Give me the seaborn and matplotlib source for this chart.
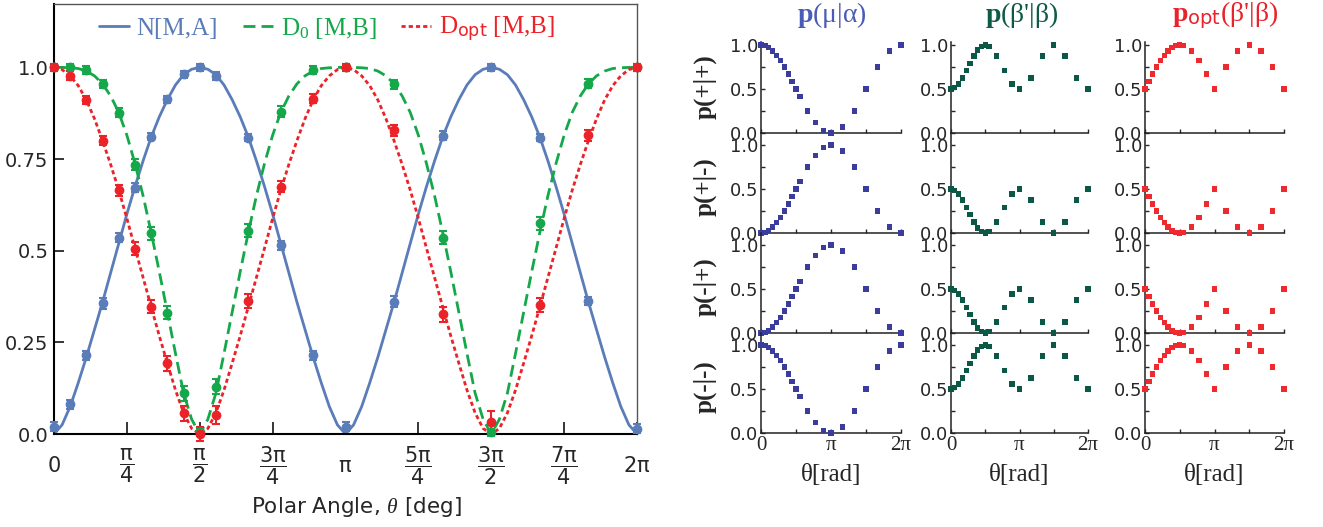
import numpy as np
import matplotlib
matplotlib.use('Agg')
import matplotlib.pyplot as plt
import seaborn as sns

# sampled polar angles (degrees) of the measured points
theta_deg = [0, 10, 20, 30, 40, 50, 60, 70, 80, 90, 100, 120, 140, 160, 180, 210, 240, 270, 300, 330, 360]

# left panel: measured points
pts_N = [0.02, 0.081, 0.215, 0.356, 0.535, 0.672, 0.811, 0.913, 0.981, 1.0, 0.977, 0.808, 0.515, 0.215, 0.02,
         0.361, 0.814, 1.0, 0.808, 0.363, 0.015]
pts_D0 = [1.0, 1.0, 0.993, 0.955, 0.877, 0.735, 0.547, 0.331, 0.111, 0.005, 0.129, 0.555, 0.879, 0.993, 1.0,
          0.954, 0.535, 0.005, 0.575, 0.956, 1.0]
pts_Dopt = [1.0, 0.977, 0.911, 0.80, 0.665, 0.506, 0.347, 0.193, 0.056, 0.0, 0.052, 0.363, 0.675, 0.915, 1.0,
            0.829, 0.326, 0.034, 0.352, 0.815, 1.0]
err_N = [0.012, 0.012, 0.012, 0.015, 0.012, 0.012, 0.01, 0.01, 0.01, 0.01, 0.01, 0.01, 0.012, 0.012, 0.012,
         0.015, 0.012, 0.01, 0.01, 0.012, 0.012]
err_D0 = [0.01, 0.01, 0.01, 0.012, 0.012, 0.015, 0.018, 0.018, 0.02, 0.01, 0.02, 0.018, 0.015, 0.01, 0.01,
          0.012, 0.018, 0.01, 0.018, 0.012, 0.01]
err_Dopt = [0.01, 0.012, 0.012, 0.012, 0.015, 0.018, 0.018, 0.02, 0.02, 0.02, 0.025, 0.018, 0.015, 0.012, 0.01,
            0.015, 0.02, 0.03, 0.02, 0.015, 0.01]

# left panel: model curves, one value every 5 degrees from 0 to 360
curve_deg = list(range(0, 361, 5))
curve_N = [0.0, 0.025, 0.075, 0.14, 0.21, 0.285, 0.36, 0.44, 0.52, 0.6, 0.675, 0.745, 0.81, 0.865, 0.912, 0.952,
           0.98, 0.995, 1.0, 0.995, 0.98, 0.952, 0.912, 0.865, 0.81, 0.745, 0.675, 0.6, 0.52, 0.44, 0.36, 0.285,
           0.21, 0.14, 0.075, 0.025, 0.0,
           0.025, 0.075, 0.14, 0.21, 0.285, 0.36, 0.44, 0.52, 0.6, 0.675, 0.745, 0.81, 0.865, 0.912, 0.952,
           0.98, 0.995, 1.0, 0.995, 0.98, 0.952, 0.912, 0.865, 0.81, 0.745, 0.675, 0.6, 0.52, 0.44, 0.36, 0.285,
           0.21, 0.14, 0.075, 0.025, 0.0]
curve_D0 = [1.0, 1.0, 0.999, 0.997, 0.99, 0.977, 0.955, 0.922, 0.877, 0.815, 0.738, 0.65, 0.55, 0.443, 0.332,
            0.22, 0.112, 0.04, 0.0, 0.04, 0.112, 0.22, 0.332, 0.443, 0.55, 0.65, 0.738, 0.815, 0.877, 0.922,
            0.955, 0.977, 0.99, 0.997, 0.999, 1.0, 1.0,
            1.0, 0.999, 0.997, 0.99, 0.977, 0.955, 0.922, 0.877, 0.815, 0.738, 0.65, 0.55, 0.443, 0.332,
            0.22, 0.112, 0.04, 0.0, 0.04, 0.112, 0.22, 0.332, 0.443, 0.55, 0.65, 0.738, 0.815, 0.877, 0.922,
            0.955, 0.977, 0.99, 0.997, 0.999, 1.0, 1.0]
curve_Dopt = [1.0, 0.994, 0.977, 0.95, 0.911, 0.86, 0.80, 0.735, 0.665, 0.588, 0.507, 0.427, 0.347, 0.268,
              0.193, 0.12, 0.058, 0.015, 0.0, 0.015, 0.058, 0.12, 0.193, 0.268, 0.347, 0.427, 0.507, 0.588,
              0.665, 0.735, 0.80, 0.86, 0.911, 0.95, 0.977, 0.994, 1.0,
              0.994, 0.977, 0.95, 0.911, 0.86, 0.80, 0.735, 0.665, 0.588, 0.507, 0.427, 0.347, 0.268,
              0.193, 0.12, 0.058, 0.015, 0.0, 0.015, 0.058, 0.12, 0.193, 0.268, 0.347, 0.427, 0.507, 0.588,
              0.665, 0.735, 0.80, 0.86, 0.911, 0.95, 0.977, 0.994, 1.0]

# right panels: probabilities per row (+|+, +|-, -|+, -|-)
mu_pp = [1.0, 0.992, 0.970, 0.933, 0.883, 0.821, 0.750, 0.671, 0.587, 0.500, 0.413, 0.250, 0.117, 0.030, 0.0,
         0.067, 0.250, 0.500, 0.750, 0.933, 1.0]
mu_pm = [0.0, 0.008, 0.030, 0.067, 0.117, 0.179, 0.250, 0.329, 0.413, 0.500, 0.587, 0.750, 0.883, 0.970, 1.0,
         0.933, 0.750, 0.500, 0.250, 0.067, 0.0]
mu_mp = [0.0, 0.008, 0.030, 0.067, 0.117, 0.179, 0.250, 0.329, 0.413, 0.500, 0.587, 0.750, 0.883, 0.970, 1.0,
         0.933, 0.750, 0.500, 0.250, 0.067, 0.0]
mu_mm = [1.0, 0.992, 0.970, 0.933, 0.883, 0.821, 0.750, 0.671, 0.587, 0.500, 0.413, 0.250, 0.117, 0.030, 0.0,
         0.067, 0.250, 0.500, 0.750, 0.933, 1.0]
beta_pp = [0.5, 0.515, 0.558, 0.625, 0.707, 0.793, 0.875, 0.942, 0.985, 1.0, 0.985, 0.875, 0.707, 0.558, 0.5,
           0.625, 0.875, 1.0, 0.875, 0.625, 0.5]
beta_pm = [0.5, 0.485, 0.442, 0.375, 0.293, 0.207, 0.125, 0.058, 0.015, 0.0, 0.015, 0.125, 0.293, 0.442, 0.5,
           0.375, 0.125, 0.0, 0.125, 0.375, 0.5]
beta_mp = [0.5, 0.485, 0.442, 0.375, 0.293, 0.207, 0.125, 0.058, 0.015, 0.0, 0.015, 0.125, 0.293, 0.442, 0.5,
           0.375, 0.125, 0.0, 0.125, 0.375, 0.5]
beta_mm = [0.5, 0.515, 0.558, 0.625, 0.707, 0.793, 0.875, 0.942, 0.985, 1.0, 0.985, 0.875, 0.707, 0.558, 0.5,
           0.625, 0.875, 1.0, 0.875, 0.625, 0.5]
opt_pp = [0.5, 0.587, 0.671, 0.75, 0.821, 0.883, 0.933, 0.970, 0.992, 1.0, 0.992, 0.933, 0.821, 0.671, 0.5,
          0.75, 0.933, 1.0, 0.933, 0.75, 0.5]
opt_pm = [0.5, 0.413, 0.329, 0.25, 0.179, 0.117, 0.067, 0.030, 0.008, 0.0, 0.008, 0.067, 0.179, 0.329, 0.5,
          0.25, 0.067, 0.0, 0.067, 0.25, 0.5]
opt_mp = [0.5, 0.413, 0.329, 0.25, 0.179, 0.117, 0.067, 0.030, 0.008, 0.0, 0.008, 0.067, 0.179, 0.329, 0.5,
          0.25, 0.067, 0.0, 0.067, 0.25, 0.5]
opt_mm = [0.5, 0.587, 0.671, 0.75, 0.821, 0.883, 0.933, 0.970, 0.992, 1.0, 0.992, 0.933, 0.821, 0.671, 0.5,
          0.75, 0.933, 1.0, 0.933, 0.75, 0.5]

row_labels = ['p(+|+)', 'p(+|-)', 'p(-|+)', 'p(-|-)']
col_titles = [r'$\mathbf{p}$(μ|α)', r"$\mathbf{p}$(β'|β)", r"$\mathbf{p}_\mathsf{opt}$(β'|β)"]
left_xticklabels = ['0', r'$\dfrac{\mathsf{\pi}}{\mathsf{4}}$', r'$\dfrac{\mathsf{\pi}}{\mathsf{2}}$',
                    r'$\dfrac{\mathsf{3\pi}}{\mathsf{4}}$', r'$\mathsf{\pi}$',
                    r'$\dfrac{\mathsf{5\pi}}{\mathsf{4}}$', r'$\dfrac{\mathsf{3\pi}}{\mathsf{2}}$',
                    r'$\dfrac{\mathsf{7\pi}}{\mathsf{4}}$', r'$\mathsf{2\pi}$']

sns.set_style('ticks')
plt.rcParams['font.family'] = ['DejaVu Sans']
plt.rcParams['mathtext.fontset'] = 'custom'
plt.rcParams['mathtext.rm'] = 'Liberation Serif'
plt.rcParams['mathtext.it'] = 'Liberation Serif:italic'
plt.rcParams['mathtext.bf'] = 'Liberation Serif:bold'
plt.rcParams['mathtext.sf'] = 'DejaVu Sans'

W, H = 1323, 527
fig = plt.figure(figsize=(W / 100, H / 100), dpi=100)


def px_axes(left, top, width, height):
    return fig.add_axes([left / W, 1 - (top + height) / H, width / W, height / H])


blue, green, red = '#5a7cb8', '#15a84a', '#ec2229'
th = np.deg2rad(theta_deg)
cth = np.deg2rad(curve_deg)

# ---- left panel ----
ax = px_axes(54, 4, 583, 430)
sns.lineplot(x=cth, y=curve_N, ax=ax, color=blue, lw=2, label='N[M,A]', zorder=2)
sns.lineplot(x=cth, y=curve_D0, ax=ax, color=green, lw=2, linestyle=(0, (4.3, 2.2)),
             label=r'D$_0$ [M,B]', zorder=2)
sns.lineplot(x=cth, y=curve_Dopt, ax=ax, color=red, lw=2, linestyle=(0, (1.5, 1.1)),
             label=r'D$_\mathsf{opt}$ [M,B]', zorder=2)
for vals, err, col in [(pts_N, err_N, blue), (pts_D0, err_D0, green), (pts_Dopt, err_Dopt, red)]:
    ax.errorbar(th, vals, yerr=err, fmt='o', ms=6, color=col, capsize=3, elinewidth=1.5,
                capthick=1.5, clip_on=False, zorder=3)
ax.set_xlim(0, 2 * np.pi)
ax.set_ylim(0, 1.173)
ax.set_xticks(np.arange(9) * np.pi / 4)
ax.set_xticklabels(left_xticklabels, fontsize=15)
for lbl in ax.get_xticklabels():
    lbl.set_va('center')
ax.set_yticks([0, 0.25, 0.5, 0.75, 1.0])
ax.set_yticklabels(['0.0', '0.25', '0.5', '0.75', '1.0'], fontsize=14)
ax.tick_params(axis='x', direction='in', length=8.5, width=1.3, pad=23)
ax.tick_params(axis='y', direction='in', length=7, width=1.3, pad=4)
for s in ['left', 'bottom']:
    ax.spines[s].set_linewidth(1.5)
    ax.spines[s].set_color('black')
for s in ['top', 'right']:
    ax.spines[s].set_linewidth(1.0)
    ax.spines[s].set_color('#555555')
ax.set_xlabel(r'Polar Angle, $\theta$ [deg]', fontsize=15.5)
ax.xaxis.set_label_coords(0.518, -0.143)
leg = ax.legend(loc='center', bbox_to_anchor=(0.468, 0.94), ncol=3, frameon=False,
                prop={'family': 'Liberation Serif', 'size': 18}, handlelength=1.2,
                handletextpad=0.3, columnspacing=1.0, labelcolor='linecolor')

# ---- right panels ----
cols = [(761, 140, [mu_pp, mu_pm, mu_mp, mu_mm], '#3a3d9c', '#4a5cb5', 832),
        (951, 137, [beta_pp, beta_pm, beta_mp, beta_mm], '#0b5847', '#0e5a47', 1022),
        (1145, 139, [opt_pp, opt_pm, opt_mp, opt_mm], '#ee2a2f', '#e8232b', 1225)]
row_tops = [33, 133, 233, 333]

for ci, (left, width, series, dot_col, title_col, title_x) in enumerate(cols):
    fig.text(title_x / W, 1 - 15 / H, col_titles[ci], color=title_col, fontsize=20,
             family='Liberation Serif', ha='center', va='center')
    for ri, top in enumerate(row_tops):
        a = px_axes(left, top, width, 100)
        sns.scatterplot(x=th, y=series[ri], ax=a, marker='s', s=15, color=dot_col,
                        edgecolor='none', clip_on=False, zorder=3)
        a.set_xlim(0, 2 * np.pi)
        a.set_ylim(0, 1.136)
        a.set_yticks([0, 0.5, 1.0])
        a.set_yticklabels(['0.0', '0.5', '1.0'], fontsize=13)
        a.set_yticks([0.25, 0.75], minor=True)
        a.set_xticks([0, np.pi, 2 * np.pi])
        a.set_xticks([np.pi / 2, 3 * np.pi / 2], minor=True)
        a.tick_params(which='both', direction='in', length=3, width=1, pad=2)
        a.patch.set_alpha(0)
        for s in ['top', 'right']:
            a.spines[s].set_visible(False)
        for s in ['left', 'bottom']:
            a.spines[s].set_linewidth(1.1)
            a.spines[s].set_color('#222222')
        if ri == 0:
            a.spines['left'].set_bounds(0, 1.03)
        if ri == 3:
            a.set_xticklabels(['0', 'π', '2π'], fontsize=15, family='Liberation Serif')
            a.set_xlabel('θ[rad]', fontsize=18, family='Liberation Serif')
            a.xaxis.set_label_coords(0.5, -0.31)
        else:
            a.tick_params(labelbottom=False)
        if ci == 0:
            fig.text(705 / W, 1 - (top + 54) / H, row_labels[ri], rotation=90, fontsize=18,
                     family='Liberation Serif', weight='bold', ha='center', va='center')

fig.savefig('out.png', dpi=100)
